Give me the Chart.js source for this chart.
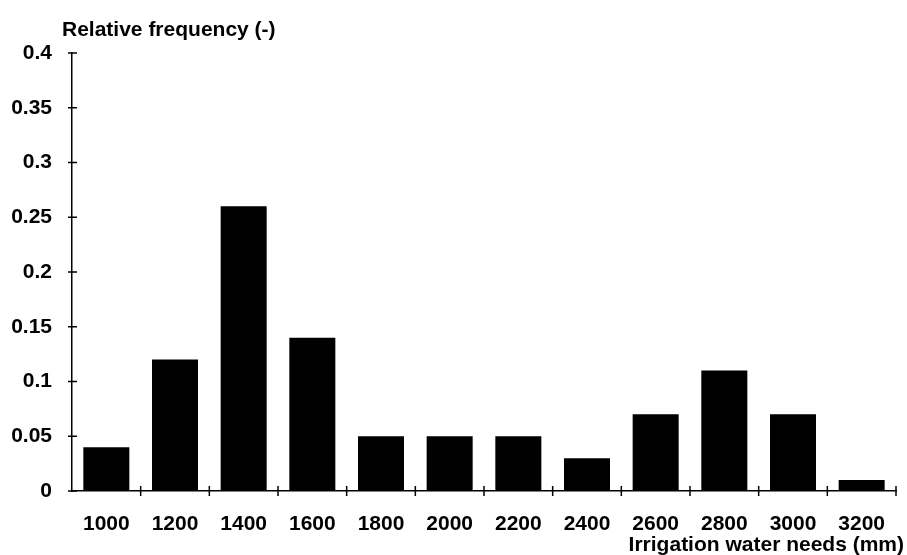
<!DOCTYPE html>
<html>
<head>
<meta charset="utf-8">
<script src="https://cdn.jsdelivr.net/npm/chart.js@4/dist/chart.umd.min.js"></script>
<style>
  html, body { margin: 0; padding: 0; background: #fff; }
  #wrap { width: 907px; height: 555px; }
</style>
</head>
<body>
<div id="wrap"><canvas id="myChart" width="907" height="555"></canvas></div>
<script>
const waterNeeds = ["1000", "1200", "1400", "1600", "1800", "2000", "2200", "2400", "2600", "2800", "3000", "3200"];
const relFrequency = [0.04, 0.12, 0.26, 0.14, 0.05, 0.05, 0.05, 0.03, 0.07, 0.11, 0.07, 0.01];
const yTitle = "Relative frequency (-)";
const xTitle = "Irrigation water needs (mm)";

const FONT = "'Liberation Sans', Arial, sans-serif";

// tick marks crossing the axes, plus the two axis titles
const axisExtras = {
  id: "axisExtras",
  afterDraw(chart) {
    const c = chart.ctx;
    const x = chart.scales.x;
    const y = chart.scales.y;
    const area = chart.chartArea;
    c.save();
    c.strokeStyle = "#000";
    c.lineWidth = 1.5;
    c.beginPath();
    y.ticks.forEach((t, i) => {
      const py = y.getPixelForTick(i);
      c.moveTo(area.left - 4, py);
      c.lineTo(area.left + 5, py);
    });
    for (let i = 1; i <= waterNeeds.length; i++) {
      const px = i === waterNeeds.length
        ? area.right
        : (x.getPixelForValue(i - 1) + x.getPixelForValue(i)) / 2;
      c.moveTo(px, area.bottom - 5);
      c.lineTo(px, area.bottom + 5);
    }
    c.stroke();

    c.fillStyle = "#000";
    c.font = "bold 21px " + FONT;
    c.textBaseline = "alphabetic";
    c.textAlign = "left";
    c.fillText(yTitle, 62, 36);
    c.textAlign = "right";
    c.fillText(xTitle, 904, 551);
    c.restore();
  },
};

new Chart(document.getElementById("myChart"), {
  type: "bar",
  data: {
    labels: waterNeeds,
    datasets: [
      {
        data: relFrequency,
        backgroundColor: "#000",
        borderWidth: 0,
        barPercentage: 0.67,
        categoryPercentage: 1,
      },
    ],
  },
  options: {
    responsive: false,
    animation: false,
    layout: { padding: { top: 53, right: 11, left: 0, bottom: 0 } },
    plugins: {
      legend: { display: false },
      tooltip: { enabled: false },
    },
    scales: {
      x: {
        grid: { display: false },
        border: { display: true, color: "#000", width: 1.5 },
        ticks: {
          color: "#000",
          padding: 13,
          maxRotation: 0,
          font: { family: FONT, size: 21, weight: "bold" },
        },
        afterFit(scale) { scale.height = 64; },
      },
      y: {
        min: 0,
        max: 0.4,
        grid: { display: false },
        border: { display: true, color: "#000", width: 1.5 },
        ticks: {
          stepSize: 0.05,
          color: "#000",
          padding: 12,
          font: { family: FONT, size: 21, weight: "bold" },
          callback: (v) => String(Number(v.toFixed(2))),
        },
        afterFit(scale) { scale.width = 72; },
      },
    },
  },
  plugins: [axisExtras],
});
</script>
</body>
</html>
